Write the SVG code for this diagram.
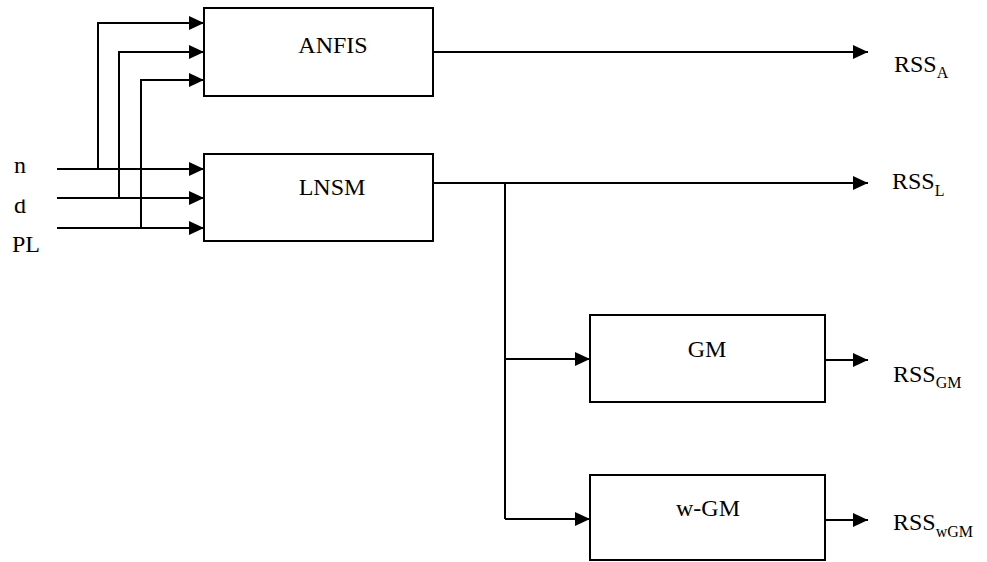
<svg xmlns="http://www.w3.org/2000/svg" width="987" height="562" viewBox="0 0 987 562">
<style>
.box{fill:#fff;stroke:#000;stroke-width:2}
.ln{fill:none;stroke:#000;stroke-width:2}
.t{font-family:'Liberation Serif','Times New Roman',serif;font-size:24px;fill:#000}
.o{font-family:'Liberation Serif','Times New Roman',serif;font-size:24px;fill:#000}
.s{font-size:16px}
</style>
<defs>
<marker id="ah" markerWidth="15" markerHeight="14" refX="15" refY="7" orient="auto" markerUnits="userSpaceOnUse">
<path d="M0,0 L15,7 L0,14 Z" fill="#000"/>
</marker>
<clipPath id="dclip"><rect x="0" y="199.5" width="50" height="25"/></clipPath>
</defs>
<rect width="987" height="562" fill="#fff"/>
<g id="connectors">
<path class="ln" d="M57,169 H204" marker-end="url(#ah)"/>
<path class="ln" d="M57,198 H204" marker-end="url(#ah)"/>
<path class="ln" d="M57,228 H204" marker-end="url(#ah)"/>
<path class="ln" d="M98,169 V23 H204" marker-end="url(#ah)"/>
<path class="ln" d="M119,198 V52 H204" marker-end="url(#ah)"/>
<path class="ln" d="M141,228 V80 H204" marker-end="url(#ah)"/>
<path class="ln" d="M433,52 H868" marker-end="url(#ah)"/>
<path class="ln" d="M433,183 H868" marker-end="url(#ah)"/>
<path class="ln" d="M505,183 V519"/>
<path class="ln" d="M505,359 H590" marker-end="url(#ah)"/>
<path class="ln" d="M505,519 H590" marker-end="url(#ah)"/>
<path class="ln" d="M825,360 H868" marker-end="url(#ah)"/>
<path class="ln" d="M825,520 H868" marker-end="url(#ah)"/>
</g>
<g id="anfis">
<rect class="box" x="204" y="8" width="229" height="88"/>
<text class="t" x="333" y="53" text-anchor="middle">ANFIS</text>
</g>
<g id="lnsm">
<rect class="box" x="204" y="154" width="229" height="87"/>
<text class="t" x="332" y="195" text-anchor="middle">LNSM</text>
</g>
<g id="gm">
<rect class="box" x="590" y="315" width="235" height="87"/>
<text class="t" x="707" y="357" text-anchor="middle">GM</text>
</g>
<g id="wgm">
<rect class="box" x="590" y="475" width="235" height="85"/>
<text class="t" x="708" y="516" text-anchor="middle">w-GM</text>
</g>
<g id="inputs">
<text class="t" x="14" y="173">n</text>
<text class="t" x="14" y="213" clip-path="url(#dclip)">d</text>
<text class="t" x="12" y="252">PL</text>
</g>
<g id="outputs">
<text class="o" x="894" y="72">RSS<tspan class="s" dy="6">A</tspan></text>
<text class="o" x="892" y="189">RSS<tspan class="s" dy="7">L</tspan></text>
<text class="o" x="893" y="382">RSS<tspan class="s" dy="6">GM</tspan></text>
<text class="o" x="893" y="530">RSS<tspan class="s" dy="7">wGM</tspan></text>
</g>
</svg>
